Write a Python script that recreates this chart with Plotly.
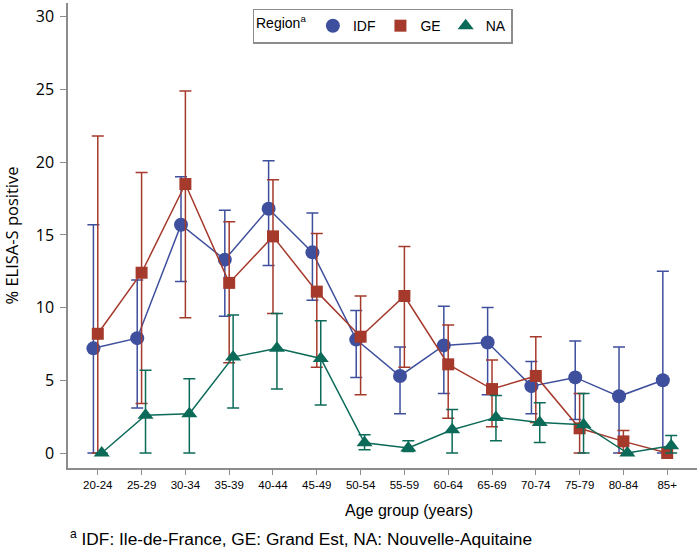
import plotly.graph_objects as go

age_groups = ["20-24", "25-29", "30-34", "35-39", "40-44", "45-49", "50-54",
              "55-59", "60-64", "65-69", "70-74", "75-79", "80-84", "85+"]

idf = [7.2, 7.9, 15.7, 13.3, 16.8, 13.8, 7.8, 5.3, 7.4, 7.6, 4.6, 5.2, 3.9, 5.0]
idf_lo = [0, 3.1, 11.8, 9.4, 12.9, 10.5, 5.2, 2.7, 4.1, 4.0, 2.7, 2.3, 0, 0]
idf_hi = [15.7, 11.9, 19.0, 16.7, 20.1, 16.5, 9.8, 7.3, 10.1, 10.0, 6.3, 7.7, 7.3, 12.5]

ge = [8.2, 12.4, 18.5, 11.7, 14.9, 11.1, 8.0, 10.8, 6.1, 4.4, 5.3, 1.7, 0.8, 0.0]
ge_lo = [0, 3.4, 9.3, 6.2, 9.6, 5.9, 4.0, 5.9, 2.4, 1.8, 2.1, 0, 0, 0]
ge_hi = [21.8, 19.3, 24.9, 15.9, 18.8, 15.1, 10.8, 14.2, 8.8, 6.4, 8.0, 4.1, 1.55, 0]

na = [0, 2.6, 2.7, 6.6, 7.2, 6.5, 0.7, 0.35, 1.6, 2.45, 2.1, 1.95, 0, 0.5]
na_lo = [0, 0, 0, 3.1, 4.4, 3.3, 0.23, 0.1, 0, 0.85, 0.72, 0, 0, 0]
na_hi = [0, 5.7, 5.1, 9.5, 9.6, 9.1, 1.25, 0.85, 3.0, 3.95, 3.45, 4.1, 0, 1.2]

y_ticks = [0, 5, 10, 15, 20, 25, 30]

series = [
    ("IDF", idf, idf_lo, idf_hi, "#3E4F9D", "circle", 14, -0.1),
    ("GE", ge, ge_lo, ge_hi, "#A53A2C", "square", 12, 0.0),
    ("NA", na, na_lo, na_hi, "#0C6A58", "triangle-up", 14, 0.09),
]

fig = go.Figure()
for name, vals, lo, hi, color, symbol, size, dx in series:
    xs = [i + dx for i in range(len(age_groups))]
    fig.add_trace(go.Scatter(
        x=xs, y=vals, name=name, mode="lines+markers", showlegend=False,
        legendgroup=name,
        line=dict(color=color, width=1.5),
        marker=dict(color=color, symbol=symbol, size=size),
        error_y=dict(type="data", symmetric=False,
                     array=[h - v for h, v in zip(hi, vals)],
                     arrayminus=[v - l for v, l in zip(vals, lo)],
                     color=color, thickness=1.5, width=6),
        customdata=age_groups,
        hovertemplate="%{customdata}: %{y}%<extra>" + name + "</extra>",
    ))
# legend entries (markers only)
for name, vals, lo, hi, color, symbol, size, dx in series:
    fig.add_trace(go.Scatter(
        x=[None], y=[None], name=name, mode="markers", legendgroup=name,
        marker=dict(color=color, symbol=symbol, size=size), showlegend=True,
    ))

axis_color = "#8C8C8C"
fig.update_layout(
    width=700, height=553,
    margin=dict(l=68, r=3, t=3, b=85),
    paper_bgcolor="white", plot_bgcolor="white",
    showlegend=True,
    legend=dict(orientation="h", x=0.5, y=0.988, xanchor="center", yanchor="top",
                bordercolor="#8C8C8C", borderwidth=1.5,
                font=dict(family="Liberation Sans, Arial", size=14, color="black"),
                title=dict(text="Region<sup>a</sup>", side="left",
                           font=dict(family="Liberation Sans, Arial", size=14)),
                itemsizing="trace", itemwidth=30, tracegroupgap=0),
    xaxis=dict(range=[-0.68, 13.68], tickmode="array",
               tickvals=list(range(len(age_groups))), ticktext=age_groups,
               showgrid=False, zeroline=False, showline=True, linecolor=axis_color,
               linewidth=1.5, ticks="outside", ticklen=5, tickcolor=axis_color,
               tickfont=dict(family="Liberation Sans, Arial", size=11.5, color="black")),
    yaxis=dict(range=[-1.03, 30.95], tickmode="array", tickvals=y_ticks,
               showgrid=False, zeroline=False, showline=True, linecolor=axis_color,
               linewidth=1.5, ticks="outside", ticklen=6, tickcolor=axis_color,
               ticklabelstandoff=3,
               tickfont=dict(family="Open Sans", size=16, color="black"),
               title=dict(text="% ELISA-S positive", standoff=14,
                          font=dict(family="Open Sans", size=16.5, color="black"))),
    annotations=[
        dict(text="Age group (years)", xref="paper", yref="paper",
             x=0.542, y=-0.092, xanchor="center", yanchor="middle", showarrow=False,
             font=dict(family="Liberation Sans, Arial", size=16, color="black")),
        dict(text="<sup>a</sup> IDF: Ile-de-France, GE: Grand Est, NA: Nouvelle-Aquitaine",
             xref="paper", yref="paper", x=0.0, y=-0.15,
             xanchor="left", yanchor="middle", showarrow=False,
             font=dict(family="Liberation Sans, Arial", size=17.3, color="black")),
    ],
)

fig.write_html("out.html", config={"displayModeBar": False},
               post_script="document.body.style.margin='0';")
